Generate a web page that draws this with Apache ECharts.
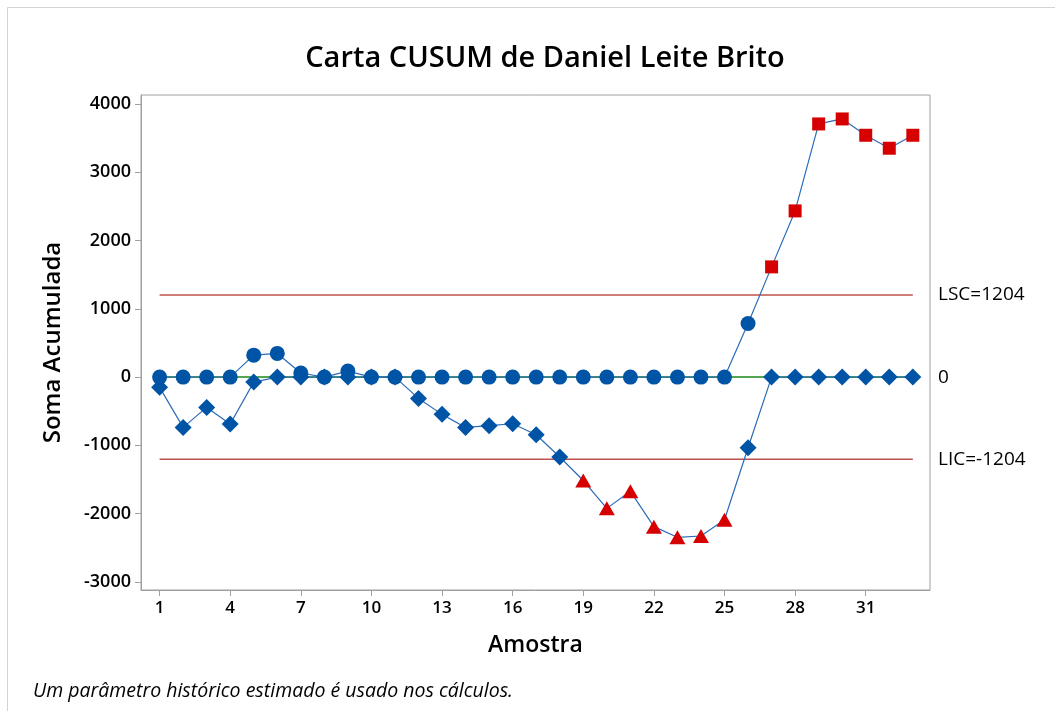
<!DOCTYPE html>
<html>
<head>
<meta charset="utf-8">
<script src="https://cdn.jsdelivr.net/npm/echarts@6/dist/echarts.min.js"></script>
<style>
html,body{margin:0;padding:0;background:#fff;}
#c{width:1055px;height:711px;}
</style>
</head>
<body>
<div id="c"></div>
<script>
const samples = [1,2,3,4,5,6,7,8,9,10,11,12,13,14,15,16,17,18,19,20,21,22,23,24,25,26,27,28,29,30,31,32,33];
const upperCusum = [0,0,0,0,322,347,60,0,88,0,0,0,0,0,0,0,0,0,0,0,0,0,0,0,0,786,1615,2435,3709,3782,3543,3353,3543];
const lowerCusum = [-150,-737,-444,-688,-73,0,0,0,0,0,0,-312,-546,-737,-712,-683,-844,-1171,-1515,-1923,-1673,-2191,-2347,-2328,-2089,-1035,0,0,0,0,0,0,0];
const xTicks = [1,4,7,10,13,16,19,22,25,28,31];
const yTicks = [-3000,-2000,-1000,0,1000,2000,3000,4000];
const LSC = 1204, LIC = -1204, center = 0;

const blue = '#0054a6', red = '#d60000', lineBlue = '#2b6cb8';
const font = '"Open Sans", "Noto Sans", sans-serif';

const upperData = samples.map((s,i)=>{
  const out = upperCusum[i] > LSC;
  return {value:[s,upperCusum[i]], symbol: out?'rect':'circle', symbolSize: out?13:15,
    itemStyle:{color: out?red:blue}};
});
const lowerData = samples.map((s,i)=>{
  const out = lowerCusum[i] < LIC;
  return {value:[s,lowerCusum[i]], symbol: out?'triangle':'diamond', symbolSize: out?[16,14]:[17,17],
    itemStyle:{color: out?red:blue}};
});

const chart = echarts.init(document.getElementById('c'));
chart.setOption({
  animation:false,
  backgroundColor:'#fff',
  title:{text:'Carta CUSUM de Daniel Leite Brito', left:540, top:39, textAlign:'center',
    textStyle:{fontFamily:font, fontSize:29, fontWeight:600, color:'#000'}},
  grid:{left:141, right:125, top:95, bottom:121, show:true, borderColor:'#a0a0a0', borderWidth:1},
  xAxis:{type:'value', min:0.21, max:33.73, name:'Amostra', nameLocation:'middle', nameGap:44,
    nameTextStyle:{fontFamily:font, fontSize:23, fontWeight:600, color:'#000'},
    splitLine:{show:false},
    axisLine:{show:true, onZero:false, lineStyle:{color:'#a0a0a0'}},
    axisTick:{show:true, length:6, customValues:xTicks, lineStyle:{color:'#a0a0a0'}},
    axisLabel:{customValues:xTicks, margin:10, fontFamily:font, fontSize:17, fontWeight:600, color:'#000'}},
  yAxis:{type:'value', min:-3119, max:4133, name:'Soma Acumulada', nameLocation:'middle', nameGap:76,
    nameTextStyle:{fontFamily:font, fontSize:24, fontWeight:600, color:'#000'},
    splitLine:{show:false},
    axisLine:{show:true, lineStyle:{color:'#a0a0a0'}},
    axisTick:{show:true, length:6, customValues:yTicks, lineStyle:{color:'#a0a0a0'}},
    axisLabel:{customValues:yTicks, margin:10, formatter:v=>String(v), fontFamily:font, fontSize:18, fontWeight:600, color:'#000'}},
  series:[
    {type:'line', name:'center', data:[[1,center],[33,center]], symbol:'none', silent:true,
      lineStyle:{color:'#1a8a1a', width:1.5}, z:1},
    {type:'line', name:'LSC', data:[[1,LSC],[33,LSC]], symbol:'none', silent:true,
      lineStyle:{color:'#c0504d', width:1.5}, z:1},
    {type:'line', name:'LIC', data:[[1,LIC],[33,LIC]], symbol:'none', silent:true,
      lineStyle:{color:'#c0504d', width:1.5}, z:1},
    {type:'line', name:'lower', data:lowerData, showAllSymbol:true,
      lineStyle:{color:lineBlue, width:1.2}, z:3},
    {type:'line', name:'upper', data:upperData, showAllSymbol:true,
      lineStyle:{color:lineBlue, width:1.2}, z:4}
  ]
});
const pLSC = chart.convertToPixel({gridIndex:0},[33.73,LSC]);
const p0 = chart.convertToPixel({gridIndex:0},[33.73,center]);
const pLIC = chart.convertToPixel({gridIndex:0},[33.73,LIC]);
const lbl = (t,p)=>({type:'text', x:p[0]+8, y:p[1], style:{text:t, fontFamily:font, fontSize:19, fill:'#000', verticalAlign:'middle'}});
chart.setOption({graphic:[
  {type:'rect', shape:{x:7.5,y:7.5,width:1100,height:800}, style:{fill:'none',stroke:'#d3d3d3',lineWidth:1}},
  lbl('LSC=' + LSC, pLSC), lbl(String(center), p0), lbl('LIC=' + LIC, pLIC),
  {type:'text', x:33, y:691, style:{text:'Um parâmetro histórico estimado é usado nos cálculos.', fontFamily:font, fontSize:19.5, fontStyle:'italic', fill:'#000', verticalAlign:'middle'}}
]});
</script>
</body>
</html>
